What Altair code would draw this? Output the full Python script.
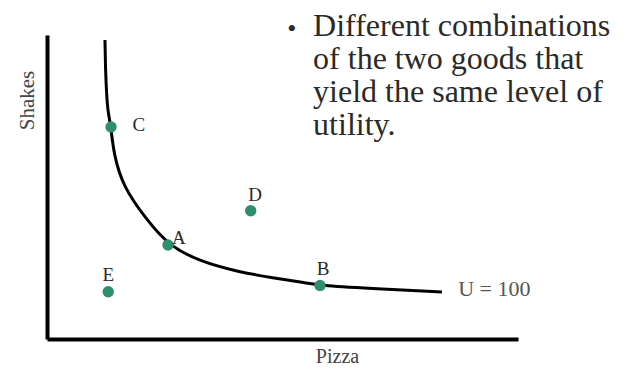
import altair as alt
import pandas as pd

# indifference curve U = 100 (Pizza vs Shakes units 0-100)
curve_pizza = [12.31, 12.42, 12.68, 12.95, 13.59, 14.12, 16.14, 21.23, 25.69,
               32.48, 40.34, 47.98, 55.20, 57.96, 71.34, 83.86]
curve_shakes = [98.36, 88.49, 79.61, 74.67, 69.74, 61.18, 50.00, 39.14, 30.92,
                25.49, 22.20, 20.07, 18.42, 17.60, 16.45, 15.46]

# bundles
pt_names = ["C", "A", "B", "D", "E"]
pt_pizza = [13.59, 25.69, 57.96, 43.25, 13.0]
pt_shakes = [69.74, 30.92, 17.60, 42.2, 15.56]
lab_pizza = [19.5, 28.0, 58.6, 44.2, 13.0]
lab_shakes = [70.3, 33.2, 22.9, 47.4, 21.0]

curve_label = ["U = 100"]
curve_label_pizza = [87.3]
curve_label_shakes = [16.3]

note_lines = ["Different combinations", "of the two goods that",
              "yield the same level of", "utility."]

curve_df = pd.DataFrame({"Pizza": curve_pizza, "Shakes": curve_shakes,
                         "order": list(range(len(curve_pizza)))})
pts_df = pd.DataFrame({"name": pt_names, "Pizza": pt_pizza, "Shakes": pt_shakes,
                       "lx": lab_pizza, "ly": lab_shakes})
ulab_df = pd.DataFrame({"t": curve_label, "Pizza": curve_label_pizza, "Shakes": curve_label_shakes})
note_df = pd.DataFrame({"t": [note_lines], "Pizza": [56.5], "Shakes": [107.9]})
bullet_df = pd.DataFrame({"t": ["•"], "Pizza": [52.0], "Shakes": [102.1]})

FONT = "Liberation Serif"
TXT = "#2a2a2a"

xs = alt.Scale(domain=[0, 100], nice=False, zero=False)
ys = alt.Scale(domain=[0, 100], nice=False, zero=False)

x_axis = alt.Axis(title="Pizza", labels=False, ticks=False, grid=False,
                  domainColor="black", domainWidth=4, titleFont=FONT, titleFontSize=20,
                  titleFontWeight="normal", titleColor="#444", titleX=290, titleY=17,
                  titleBaseline="middle")
y_axis = alt.Axis(title="Shakes", labels=False, ticks=False, grid=False,
                  domainColor="black", domainWidth=4, titleFont=FONT, titleFontSize=21,
                  titleFontWeight="normal", titleColor="#444", titleX=-20, titleY=65,
                  titleBaseline="middle", titleAngle=270)

curve = alt.Chart(curve_df).mark_line(color="black", strokeWidth=3, interpolate="basis").encode(
    x=alt.X("Pizza:Q", scale=xs, axis=x_axis),
    y=alt.Y("Shakes:Q", scale=ys, axis=y_axis),
    order="order:Q",
)

points = alt.Chart(pts_df).mark_circle(size=130, color="#2f8f6d", opacity=1).encode(
    x=alt.X("Pizza:Q", scale=xs), y=alt.Y("Shakes:Q", scale=ys))

labels = alt.Chart(pts_df).mark_text(font=FONT, fontSize=19, color=TXT, baseline="middle",
                                     align="center").encode(
    x=alt.X("lx:Q", scale=xs), y=alt.Y("ly:Q", scale=ys), text="name:N")

ulab = alt.Chart(ulab_df).mark_text(font=FONT, fontSize=22, color="#555", align="left",
                                    baseline="middle").encode(
    x=alt.X("Pizza:Q", scale=xs), y=alt.Y("Shakes:Q", scale=ys), text="t:N")

note = alt.Chart(note_df).mark_text(font=FONT, fontSize=32, color=TXT, align="left",
                                    baseline="top", lineHeight=33).encode(
    x=alt.X("Pizza:Q", scale=xs), y=alt.Y("Shakes:Q", scale=ys), text="t")

bullet = alt.Chart(bullet_df).mark_text(font=FONT, fontSize=26, color=TXT, align="center",
                                        baseline="middle").encode(
    x=alt.X("Pizza:Q", scale=xs), y=alt.Y("Shakes:Q", scale=ys), text="t:N")

chart = alt.layer(curve, points, labels, ulab, note, bullet).properties(
    width=471, height=304,
    autosize=alt.AutoSizeParams(type="none"),
    padding={"left": 39, "top": 27, "right": 105, "bottom": 29},
    background="white",
).configure_view(stroke=None)

chart.save("out.html", embed_options={"renderer": "svg", "actions": False})
